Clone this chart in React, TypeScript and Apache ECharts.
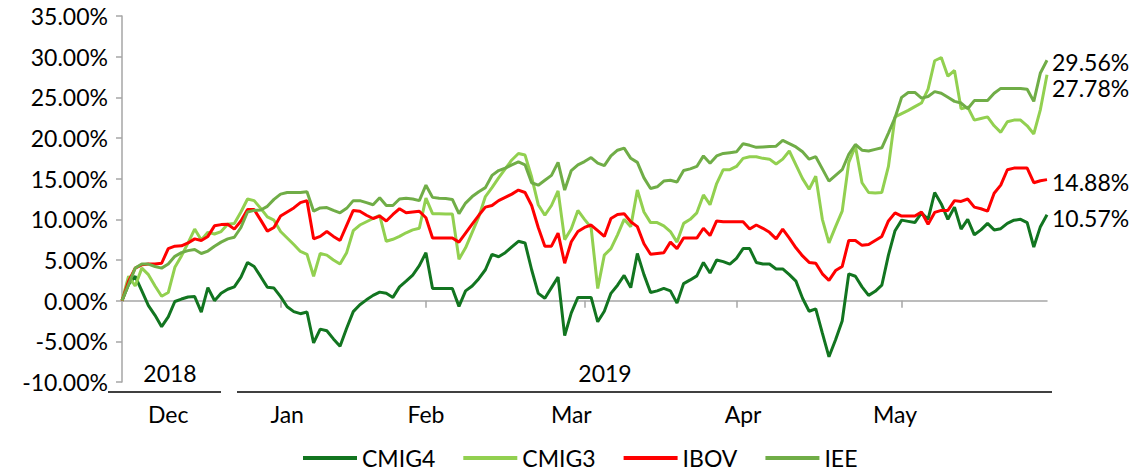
import React, { useEffect, useRef } from 'react';
import * as echarts from 'echarts';

// ---- data (cumulative return, %) ----
const seriesNames = ['CMIG4', 'CMIG3', 'IBOV', 'IEE'];
const seriesColors = ['#127520', '#92D050', '#FF0000', '#70AD47'];

const cmig4 = [
  0, 2.0, 3.0, 1.2, -0.6, -1.8, -3.2, -2.0, -0.1, 0.2,
  0.45, 0.5, -1.4, 1.6, 0.0, 0.9, 1.4, 1.7, 2.9, 4.7,
  4.2, 2.95, 1.65, 1.55, 0.5, -0.75, -1.35, -1.6, -1.4, -5.2,
  -3.5, -3.7, -4.7, -5.6, -3.4, -1.35, -0.5, 0.1, 0.65, 1.05,
  0.9, 0.4, 1.7, 2.4, 3.15, 4.3, 5.9, 1.5, 1.5, 1.5,
  1.5, -0.7, 1.2, 1.8, 2.7, 3.8, 5.7, 5.4, 5.9, 6.6,
  7.3, 7.1, 3.8, 0.9, 0.3, 1.6, 2.9, -4.3, -1.5, 0.4,
  0.4, 0.4, -2.6, -1.3, 0.9, 1.9, 3.1, 1.6, 5.8, 3.2,
  1.0, 1.2, 1.5, 1.2, -0.3, 2.1, 2.55, 3.05, 4.7, 3.4,
  5.0, 4.8, 4.5, 5.2, 6.4, 6.4, 4.7, 4.5, 4.5, 3.9,
  3.9, 3.2, 2.4, 0.3, -1.3, -1.0, -4.0, -6.9, -4.8, -2.5,
  3.3, 3.0, 1.7, 0.65, 1.15, 1.9, 5.6, 8.6, 9.9, 9.75,
  9.6, 10.8, 10.0, 13.3, 11.9, 10.0, 11.5, 8.8, 10.0, 8.1,
  8.7, 9.5, 8.7, 8.85, 9.5, 9.9, 10.0, 9.6, 6.6, 9.1,
  10.57,
];

const cmig3 = [
  0, 3.0, 1.8, 4.0, 3.2, 1.8, 0.55, 1.0, 4.1, 5.5,
  7.1, 8.8, 7.45, 8.4, 8.2, 8.5, 9.4, 9.5, 10.9, 12.5,
  12.3, 11.35, 10.3, 9.9, 8.5, 7.7, 6.9, 6.05, 5.7, 3.0,
  5.8, 5.6, 5.0, 4.5, 5.9, 8.6, 9.3, 9.7, 10.1, 10.5,
  7.3, 7.55, 7.9, 8.35, 8.7, 8.9, 12.6, 10.7, 10.7, 10.65,
  10.65, 5.1, 6.5, 8.4, 10.3, 12.8, 13.9, 15.1, 16.2, 17.3,
  18.1, 17.9, 15.2, 11.8, 10.5, 11.7, 13.5, 7.5, 8.85, 11.1,
  10.0, 9.0, 1.5, 5.6, 6.4, 8.1, 10.0, 9.1, 13.6, 10.9,
  9.6, 9.6, 9.2, 8.5, 7.2, 9.5, 10.0, 10.8, 13.0, 11.8,
  14.4, 16.1, 16.1, 16.5, 17.5, 17.7, 17.7, 17.5, 17.4, 16.8,
  17.4, 18.4, 16.7, 15.0, 13.7, 15.3, 10.0, 7.1, 9.1, 11.0,
  17.0, 19.0, 14.5, 13.3, 13.25, 13.3, 16.5, 22.6, 23.0, 23.4,
  23.85, 24.3, 26.0, 29.5, 29.9, 27.6, 28.3, 23.6, 23.8, 22.2,
  22.4, 22.6, 21.5, 20.7, 22.0, 22.2, 22.2, 21.5, 20.5, 23.5,
  27.78,
];

const ibov = [
  0, 2.4, 4.0, 4.4, 4.5, 4.5, 4.6, 6.4, 6.7, 6.75,
  7.1, 7.6, 7.4, 7.9, 9.2, 9.35, 9.4, 8.8, 9.8, 11.2,
  11.2, 9.9, 8.55, 9.0, 10.4, 10.9, 11.4, 12.05, 12.3, 7.6,
  7.9, 8.5, 7.9, 7.4, 9.25, 11.1, 11.0, 10.5, 10.1, 10.4,
  9.8, 10.6, 11.3, 10.8, 10.9, 11.0, 10.2, 7.7, 7.7, 7.7,
  7.7, 7.2, 8.3, 9.4, 10.5, 11.5, 11.7, 12.3, 12.7, 13.1,
  13.6, 13.3, 11.7, 9.0, 6.7, 6.7, 8.3, 4.6, 7.25, 8.5,
  9.0, 9.3, 8.6, 7.9, 10.1, 10.6, 10.7, 9.7, 9.1, 7.0,
  5.7, 5.8, 5.9, 7.2, 6.4, 7.7, 7.7, 7.7, 8.9, 8.0,
  9.8, 9.7, 9.7, 9.7, 9.7, 8.8, 9.3, 8.9, 8.4, 7.6,
  8.8, 7.7, 6.5, 5.5, 4.7, 4.6, 3.3, 2.5, 3.7, 4.2,
  7.4, 7.4, 6.8, 6.9, 7.4, 7.9, 9.8, 10.8, 10.4, 10.4,
  10.4, 10.9, 9.4, 10.85, 11.1, 11.1, 12.3, 12.2, 12.5, 11.5,
  11.3, 11.0, 13.2, 14.2, 16.1, 16.3, 16.3, 16.3, 14.5, 14.75,
  14.88,
];

const iee = [
  0, 2.0, 4.0, 4.5, 4.5, 4.2, 4.0, 4.5, 5.45, 5.9,
  6.15, 6.3, 5.8, 6.1, 6.7, 7.2, 7.6, 7.8, 9.0, 10.9,
  11.1, 11.15, 11.6, 12.45, 13.1, 13.3, 13.3, 13.3, 13.4, 11.0,
  11.4, 11.45, 11.1, 10.8, 11.35, 12.3, 12.3, 12.05, 11.8, 12.65,
  11.7, 11.7, 12.5, 12.6, 12.5, 12.3, 14.2, 12.7, 12.6, 12.55,
  12.45, 10.7, 12.0, 12.8, 13.4, 13.9, 15.4, 16.0, 16.3, 16.7,
  17.05, 16.7, 14.5, 14.2, 14.8, 15.4, 17.0, 13.6, 16.0, 16.7,
  17.1, 17.6, 16.9, 16.6, 17.8, 18.5, 18.75, 17.5, 17.0, 15.1,
  13.8, 14.0, 14.7, 14.8, 14.6, 16.0, 16.2, 16.5, 17.8, 16.9,
  17.8, 18.1, 18.2, 18.3, 19.3, 19.1, 18.85, 18.9, 18.95, 19.0,
  19.7, 19.3, 18.9, 18.3, 17.4, 17.7, 16.2, 14.7, 15.4, 16.1,
  18.0, 19.2, 18.5, 18.4, 18.6, 18.8, 20.6, 22.5, 25.0, 25.6,
  25.6, 24.9, 25.1, 25.7, 25.5, 25.0, 24.5, 24.3, 23.6, 24.6,
  24.6, 24.6, 25.5, 26.1, 26.1, 26.1, 26.1, 26.0, 24.5, 28.0,
  29.56,
];

// trading-day categories
const categories = cmig4.map((_, i) => `D${i + 1}`);
// month labels (category index -> label) and month-boundary ticks
const monthLabels: Record<number, string> = { 7: 'Dec', 25: 'Jan', 46: 'Feb', 68: 'Mar', 94: 'Apr', 117: 'May' };
const monthStartTicks = [24, 46, 70, 93, 118];
const yearLabels = ['2018', '2019'];
const endLabelOffsets = [3, 13, 2, 2];

const FONT = 'Lato';
const FS = 23;

export default function App() {
  const ref = useRef<HTMLDivElement>(null);
  useEffect(() => {
    if (!ref.current) return;
    const chart = echarts.init(ref.current, undefined, { renderer: 'svg' });
    const dataSets = [cmig4, cmig3, ibov, iee];
    const option: any = {
      animation: false,
      backgroundColor: '#fff',
      textStyle: { fontFamily: FONT },
      grid: { left: 122, right: 91, top: 16, bottom: 90, containLabel: false },
      legend: {
        data: seriesNames,
        left: 303,
        top: 446,
        padding: 0,
        icon: 'rect',
        itemWidth: 54,
        itemHeight: 4,
        itemGap: 28,
        textStyle: { fontSize: FS, fontFamily: FONT, color: '#000', lineHeight: 24 },
      },
      xAxis: [
        {
          type: 'category',
          data: categories,
          boundaryGap: false,
          axisLine: { onZero: true, lineStyle: { color: '#A6A6A6', width: 1.5 } },
          axisTick: {
            show: true,
            interval: (i: number) => monthStartTicks.includes(i),
            length: 7,
            lineStyle: { color: '#A6A6A6', width: 1.5 },
          },
          axisLabel: { show: false },
          splitLine: { show: false },
        },
        {
          type: 'category',
          data: categories,
          boundaryGap: false,
          position: 'bottom',
          axisLine: { show: false, onZero: false },
          axisTick: { show: false },
          axisLabel: {
            interval: (i: number) => monthLabels[i] !== undefined,
            formatter: (_v: string, i: number) => monthLabels[i] || '',
            margin: 20,
            fontSize: FS,
            fontFamily: FONT,
            color: '#000',
          },
          splitLine: { show: false },
        },
      ],
      yAxis: {
        type: 'value',
        min: -10,
        max: 35,
        interval: 5,
        axisLine: { show: true, lineStyle: { color: '#A6A6A6', width: 1.5 } },
        axisTick: { show: true, length: 6, lineStyle: { color: '#A6A6A6', width: 1.5 } },
        splitLine: { show: false },
        axisLabel: {
          formatter: (v: number) => v.toFixed(2) + '%',
          fontSize: FS,
          fontFamily: FONT,
          color: '#000',
          margin: 14,
        },
      },
      graphic: [
        { type: 'text', x: 170, y: 373, style: { text: yearLabels[0], font: `${FS}px ${FONT}`, fill: '#000', align: 'center', verticalAlign: 'middle' } },
        { type: 'text', x: 605, y: 373, style: { text: yearLabels[1], font: `${FS}px ${FONT}`, fill: '#000', align: 'center', verticalAlign: 'middle' } },
        { type: 'line', shape: { x1: 108, y1: 392, x2: 221, y2: 392 }, style: { stroke: '#000', lineWidth: 1.5 } },
        { type: 'line', shape: { x1: 237, y1: 392, x2: 1052, y2: 392 }, style: { stroke: '#000', lineWidth: 1.5 } },
      ],
      series: seriesNames.map((name, k) => ({
        name,
        type: 'line',
        xAxisIndex: 0,
        data: dataSets[k],
        symbol: 'none',
        showSymbol: false,
        color: seriesColors[k],
        itemStyle: { color: seriesColors[k] },
        lineStyle: { width: 3, color: seriesColors[k] },
        endLabel: {
          show: true,
          distance: 5,
          offset: [0, endLabelOffsets[k]],
          fontSize: FS,
          fontFamily: FONT,
          color: '#000',
          formatter: (p: any) => {
            const v = Array.isArray(p.value) ? p.value[1] : p.value;
            return Number(v).toFixed(2) + '%';
          },
        },
      })),
    };
    chart.setOption(option);
    return () => chart.dispose();
  }, []);
  return (
    <div
      ref={ref}
      style={{ position: 'absolute', left: 0, top: 0, width: 1138, height: 472, background: '#fff' }}
    />
  );
}
